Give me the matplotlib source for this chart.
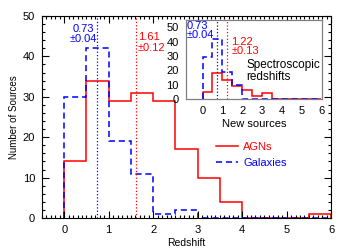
import numpy as np
import matplotlib
matplotlib.use('Agg')
import matplotlib.pyplot as plt
from matplotlib.ticker import MultipleLocator

plt.rcParams['font.family'] = ['Liberation Sans', 'DejaVu Sans']
plt.rcParams['font.size'] = 8

# bin edges (redshift), bin width 0.5
edges = np.arange(0, 6.01, 0.5)

# main histogram, all sources
agn_counts = [14, 34, 29, 31, 29, 17, 10, 4, 0, 0, 0, 1]
gal_counts = [30, 42, 19, 11, 1, 2, 0, 0, 0, 0, 0, 0]
agn_median, agn_err = 1.61, 0.12
gal_median, gal_err = 0.73, 0.04

# inset histogram, spectroscopic redshifts of new sources
spec_agn_counts = [5, 18, 13, 9, 6, 2, 4, 0, 0, 0, 0, 0]
spec_gal_counts = [29, 42, 19, 10, 0, 0, 0, 0, 0, 0, 0, 0]
spec_agn_median, spec_agn_err = 1.22, 0.13
spec_gal_median, spec_gal_err = 0.73, 0.04

fig = plt.figure(figsize=(3.5, 2.5), dpi=100)
ax = fig.add_axes([0.12, 0.128, 0.826, 0.808])

ax.stairs(agn_counts, edges, color='red', lw=1.1, label='AGNs')
ax.stairs(gal_counts, edges, color='blue', lw=1.1, ls=(0, (4, 2.5)), label='Galaxies')
ax.axvline(gal_median, color='blue', ls=':', lw=0.9)
ax.axvline(agn_median, color='red', ls=':', lw=0.9)

ax.text(0.42, 48, f'{gal_median:.2f}\n±{gal_err:.2f}', color='blue',
        ha='center', va='top', linespacing=1.05)
ax.text(1.65, 46, f'{agn_median:.2f}\n±{agn_err:.2f}', color='red',
        ha='left', va='top', linespacing=1.05)

ax.set_xlim(-0.5, 6)
ax.set_ylim(0, 50)
ax.xaxis.set_major_locator(MultipleLocator(1))
ax.xaxis.set_minor_locator(MultipleLocator(0.1))
ax.yaxis.set_major_locator(MultipleLocator(10))
ax.yaxis.set_minor_locator(MultipleLocator(2))
ax.tick_params(which='both', direction='in', top=True, right=True, width=0.8)
ax.tick_params(which='major', length=5, pad=5)
ax.tick_params(which='minor', length=2.5)
ax.set_xlabel('Redshift', labelpad=2, fontsize=7.5)
ax.set_ylabel('Number of Sources', labelpad=3, fontsize=7)

leg = ax.legend(loc='upper left', bbox_to_anchor=(0.585, 0.40), frameon=False,
                handlelength=2.0, labelcolor='linecolor', borderaxespad=0,
                labelspacing=0.6, handletextpad=0.5)

# inset
axi = fig.add_axes([0.531, 0.604, 0.389, 0.316])
axi.patch.set_facecolor('white')
axi.stairs(spec_agn_counts, edges, color='red', lw=1.1)
axi.stairs(spec_gal_counts, edges, color='blue', lw=1.1, ls=(0, (4, 2.5)))
axi.axvline(spec_gal_median, color='blue', ls=':', lw=0.9)
axi.axvline(spec_agn_median, color='red', ls=':', lw=0.9)
axi.text(-0.8, 54.5, f'{spec_gal_median:.2f}\n±{spec_gal_err:.2f}', color='blue',
         ha='left', va='top', linespacing=0.95)
axi.text(1.45, 43.5, f'{spec_agn_median:.2f}\n±{spec_agn_err:.2f}', color='red',
         ha='left', va='top', linespacing=0.95)
axi.text(2.2, 28, 'Spectroscopic\nredshifts', color='black', fontsize=8.5,
         ha='left', va='top', linespacing=1.0)
axi.set_xlim(-0.85, 6.05)
axi.set_ylim(0, 55)
axi.set_xticks(range(0, 7))
axi.set_yticks(range(0, 51, 10))
axi.tick_params(length=0, pad=5)
for sp in axi.spines.values():
    sp.set_color('gray')
    sp.set_linewidth(0.9)
axi.set_xlabel('New sources', labelpad=2)

fig.savefig('out.png', dpi=100)
